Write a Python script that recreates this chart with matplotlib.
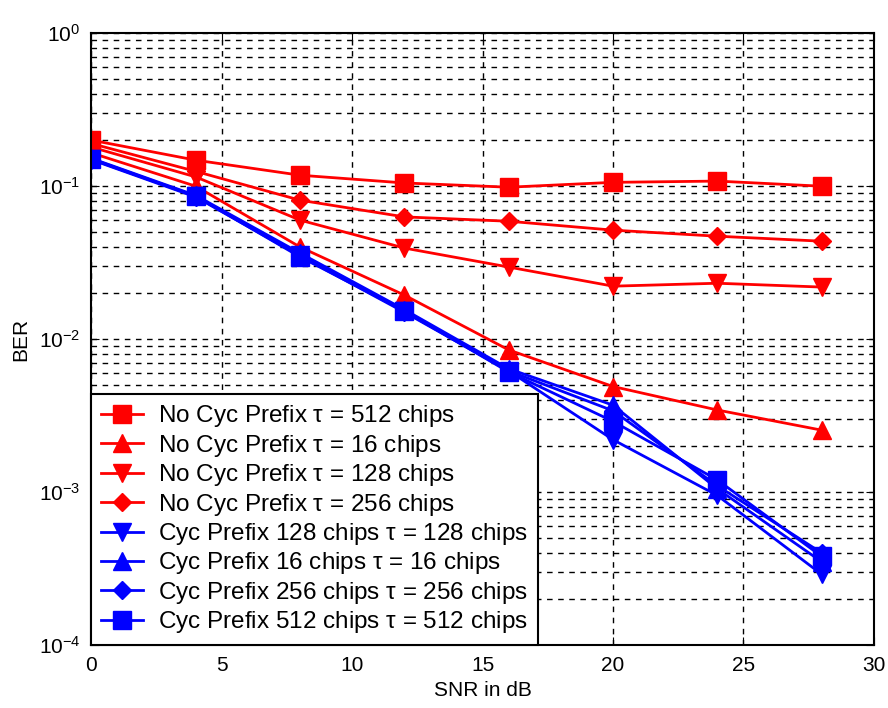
import numpy as np
import matplotlib as mpl
mpl.use('Agg')
from matplotlib import pyplot as plt
from matplotlib.ticker import LogLocator, NullFormatter

# SNR points of the simulation
snr = [0, 4, 8, 12, 16, 20, 24, 28]

# BER without cyclic prefix, for each delay spread tau
ber_nocp_512 = [0.200, 0.148, 0.118, 0.105, 0.0985, 0.106, 0.108, 0.100]
ber_nocp_16 = [0.165, 0.100, 0.040, 0.0194, 0.0085, 0.0049, 0.00344, 0.00254]
ber_nocp_128 = [0.180, 0.115, 0.060, 0.0394, 0.0296, 0.0222, 0.0232, 0.0219]
ber_nocp_256 = [0.190, 0.125, 0.081, 0.063, 0.059, 0.0516, 0.0471, 0.0437]

# BER with a cyclic prefix matched to tau
ber_cp_128 = [0.150, 0.086, 0.0355, 0.0152, 0.0062, 0.00220, 0.00095, 0.00029]
ber_cp_16 = [0.152, 0.087, 0.0365, 0.0156, 0.0064, 0.0037, 0.00105, 0.00035]
ber_cp_256 = [0.149, 0.085, 0.0350, 0.0150, 0.0062, 0.0034, 0.00110, 0.00040]
ber_cp_512 = [0.151, 0.086, 0.0345, 0.0153, 0.0061, 0.0029, 0.00120, 0.00038]

series = [
  (ber_nocp_512, 's', 'red', r'No Cyc Prefix $\tau$ = 512 chips'),
  (ber_nocp_16, '^', 'red', r'No Cyc Prefix $\tau$ = 16 chips'),
  (ber_nocp_128, 'v', 'red', r'No Cyc Prefix $\tau$ = 128 chips'),
  (ber_nocp_256, 'D', 'red', r'No Cyc Prefix $\tau$ = 256 chips'),
  (ber_cp_128, 'v', 'blue', r'Cyc Prefix 128 chips $\tau$ = 128 chips'),
  (ber_cp_16, '^', 'blue', r'Cyc Prefix 16 chips $\tau$ = 16 chips'),
  (ber_cp_256, 'D', 'blue', r'Cyc Prefix 256 chips $\tau$ = 256 chips'),
  (ber_cp_512, 's', 'blue', r'Cyc Prefix 512 chips $\tau$ = 512 chips'),
]

msize = {'s': 12.5, '^': 13.5, 'v': 13.5, 'D': 9.5}

plt.rcParams['font.family'] = ['Liberation Sans', 'DejaVu Sans']
plt.rcParams['mathtext.fontset'] = 'custom'
plt.rcParams['mathtext.rm'] = 'Liberation Sans'
plt.rcParams['mathtext.it'] = 'Liberation Sans'

fig = plt.figure(figsize=(8.88, 7.08), dpi=100)
ax = fig.add_axes([0.103, 0.089, 0.881, 0.864])

for vals, mk, col, lab in series:
  ax.semilogy(snr, vals, linestyle='-', marker=mk, color=col, linewidth=2,
              markersize=msize[mk], label=lab)

ax.set_xlim(0, 30)
ax.set_ylim(1e-4, 1e0)
ax.set_xticks(range(0, 31, 5))
ax.yaxis.set_major_locator(LogLocator(base=10, numticks=10))
ax.yaxis.set_minor_locator(LogLocator(base=10, subs=np.arange(2, 10), numticks=10))
ax.yaxis.set_minor_formatter(NullFormatter())

ax.grid(True, which='major', color='black', linestyle=(0, (4, 4)), linewidth=1)
ax.grid(True, which='minor', axis='y', color='black', linestyle=(0, (4, 4)), linewidth=1)

ax.tick_params(which='both', direction='in', top=True, right=True, labelsize=15)
ax.tick_params(which='major', length=6, pad=8)
ax.tick_params(which='minor', length=3)
for sp_ in ax.spines.values():
  sp_.set_linewidth(1.5)

ax.set_xlabel('SNR in dB', fontsize=15, labelpad=4)
ax.set_ylabel('BER', fontsize=15, labelpad=6)

leg = ax.legend(loc='lower left', bbox_to_anchor=(0, 0), borderaxespad=0,
                fontsize=17.5, fancybox=False, framealpha=1, edgecolor='black',
                handlelength=1.7, handletextpad=0.65, labelspacing=0.14,
                borderpad=0.4)
leg.get_frame().set_linewidth(1.5)

plt.savefig('out.png', dpi=100)
